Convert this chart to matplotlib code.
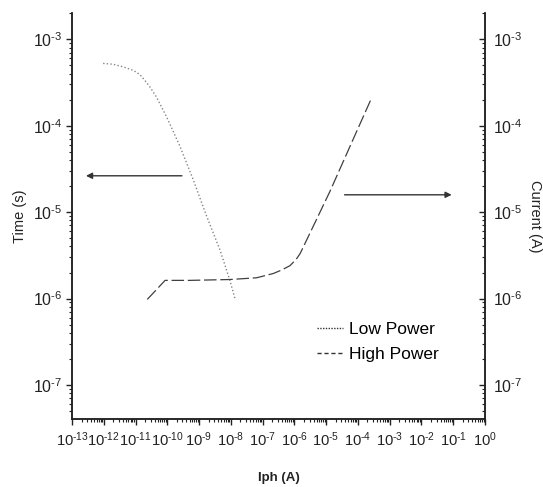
import numpy as np
import matplotlib
matplotlib.use("Agg")
import matplotlib.pyplot as plt
from matplotlib.ticker import LogLocator, NullFormatter, FuncFormatter
from matplotlib.lines import Line2D

plt.rcParams["font.family"] = ["Liberation Sans", "DejaVu Sans"]
plt.rcParams["mathtext.fontset"] = "custom"
plt.rcParams["mathtext.rm"] = "Liberation Sans"

# log10 values
low_iph = [-12.02, -11.70, -11.39, -11.07, -10.86, -10.70, -10.55, -10.34, -10.02,
           -9.60, -9.18, -8.76, -8.34, -8.03, -7.87]
low_time = [-3.28, -3.29, -3.32, -3.36, -3.41, -3.48, -3.55, -3.67, -3.90,
            -4.24, -4.63, -5.05, -5.44, -5.79, -6.00]

high_iph = [-10.63, -10.07, -9.29, -8.03, -7.19, -6.66, -6.40, -6.14, -5.95,
            -5.82, -5.61, -4.88, -4.25, -3.57]
high_cur = [-6.01, -5.79, -5.79, -5.78, -5.76, -5.71, -5.67, -5.62, -5.55,
            -5.48, -5.32, -4.76, -4.24, -3.68]

x_lim = (1e-13, 1.0)
y_lim = (4.04e-8, 2.01e-3)

# arrow annotations (tail, head) in data units
left_arrow = ((10**-9.54, 10**-4.58), (10**-12.56, 10**-4.58))
right_arrow = ((10**-4.42, 10**-4.80), (10**-1.05, 10**-4.80))

low_x = 10.0 ** np.array(low_iph)
low_y = 10.0 ** np.array(low_time)
high_x = 10.0 ** np.array(high_iph)
high_y = 10.0 ** np.array(high_cur)


def pow_label(v, pos):
    e = int(round(np.log10(v)))
    if e < 0:
        return r"$\mathdefault{10^{\text{-}%d}}$" % (-e)
    return r"$\mathdefault{10^{%d}}$" % e


fig = plt.figure(figsize=(5.43, 4.87), dpi=100)
ax = fig.add_axes([72 / 543, 1 - 419 / 487, 413 / 543, 406 / 487])
ax2 = ax.twinx()

ax.plot(low_x, low_y, color="#858585", lw=1.0, linestyle=(0, (1, 1.6)))
ax.plot(high_x, high_y, color="#404040", lw=0.9, linestyle=(0, (10, 3)))

for a in (ax, ax2):
    a.set_xscale("log")
    a.set_yscale("log")
    a.set_xlim(*x_lim)
    a.set_ylim(*y_lim)
    a.spines["top"].set_visible(False)
    for s in a.spines.values():
        s.set_linewidth(1.1)
        s.set_color("#222222")
    a.yaxis.set_major_locator(LogLocator(base=10, numticks=20))
    a.yaxis.set_minor_locator(LogLocator(base=10, subs=np.arange(2, 10), numticks=200))
    a.yaxis.set_major_formatter(FuncFormatter(pow_label))
    a.yaxis.set_minor_formatter(NullFormatter())

ax.xaxis.set_major_locator(LogLocator(base=10, numticks=20))
ax.xaxis.set_minor_locator(LogLocator(base=10, subs=np.arange(2, 10), numticks=200))
ax.xaxis.set_major_formatter(FuncFormatter(pow_label))
ax.xaxis.set_minor_formatter(NullFormatter())

ax.tick_params(axis="both", which="major", direction="out", length=4, width=1.0,
               labelsize=11.5, colors="#222222", pad=3)
ax.tick_params(axis="x", labelsize=10.6, pad=4)
ax.tick_params(axis="both", which="minor", direction="out", length=2, width=0.8,
               colors="#222222")
ax2.tick_params(axis="y", which="major", direction="in", length=4, width=1.0,
                labelsize=11.5, colors="#222222", pad=6)
ax2.tick_params(axis="y", which="minor", direction="in", length=2, width=0.8,
                colors="#222222")

ax.set_ylabel("Time (s)", fontsize=10.5, color="#222222", labelpad=4)
ax2.set_ylabel("Current (A)", fontsize=10.5, color="#222222", rotation=270, labelpad=14)
ax.set_xlabel("Iph (A)", fontsize=9.5, fontweight="bold", color="#222222", labelpad=17)

for tail, head in (left_arrow, right_arrow):
    ax.annotate("", xy=head, xytext=tail,
                arrowprops=dict(arrowstyle="-|>", color="#333333", lw=1.0,
                                mutation_scale=9, shrinkA=0, shrinkB=0))

handles = [Line2D([], [], color="#333333", lw=1.0, linestyle=(0, (1, 1))),
           Line2D([], [], color="#333333", lw=1.0, linestyle=(0, (3, 2)))]
ax.legend(handles, ["Low Power", "High Power"], loc="upper left",
          bbox_to_anchor=(317 / 543, 1 - 322 / 487), bbox_transform=fig.transFigure,
          frameon=False, fontsize=12.5, handlelength=1.5, handletextpad=0.35,
          labelspacing=0.55, borderaxespad=0, borderpad=0)

fig.savefig("out.png", dpi=100)
